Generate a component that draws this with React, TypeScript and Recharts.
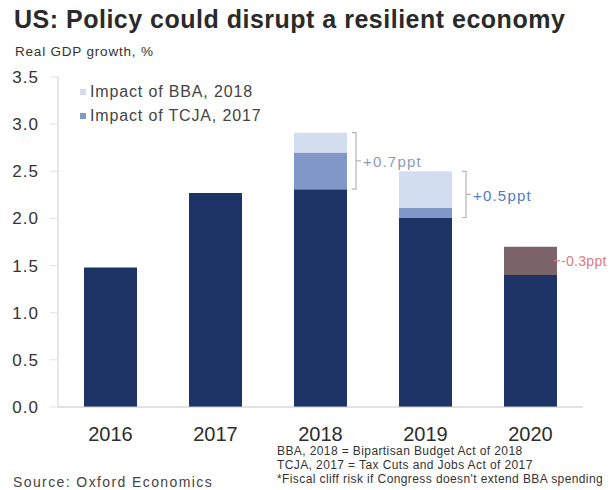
import React from 'react';
import { BarChart, Bar, XAxis, YAxis, Rectangle } from 'recharts';

const years = ['2016', '2017', '2018', '2019', '2020'];
const baseGrowth = [1.48, 2.27, 2.31, 2.01, 1.4];
const tcjaImpact = [0, 0, 0.39, 0.1, 0];
const bbaImpact = [0, 0, 0.21, 0.39, 0];
const fiscalCliff = [0, 0, 0, 0, 0.3];
const annotations = ['', '', '+0.7ppt', '+0.5ppt', '-0.3ppt'];
const yTicks = [0, 0.5, 1, 1.5, 2, 2.5, 3, 3.5];
const legendItems = [
  { label: 'Impact of BBA, 2018', color: '#d3ddf0' },
  { label: 'Impact of TCJA, 2017', color: '#8097c8' },
];
const footnotes = [
  'BBA, 2018 = Bipartisan Budget Act of 2018',
  'TCJA, 2017 = Tax Cuts and Jobs Act of 2017',
  "*Fiscal cliff risk if Congress doesn't extend BBA spending",
];

const NAVY = '#1f3466';
const TCJA = '#8097c8';
const BBA = '#d3ddf0';
const CLIFF = '#7a6468';
const FONT = '"Liberation Sans", Arial, sans-serif';

const data = years.map((y, i) => ({
  year: y,
  base: baseGrowth[i],
  tcja: tcjaImpact[i],
  bba: bbaImpact[i],
  cliff: fiscalCliff[i],
  note: annotations[i],
}));

// BBA segment shape: draws the rect, plus a bracket spanning TCJA + BBA
const BbaShape = (props: any) => {
  const { x, y, width, height, index, fill } = props;
  const d = data[index];
  const rect = <Rectangle x={x} y={y} width={width} height={height} fill={fill} />;
  if (!d || !d.note || d.bba <= 0 || !height) return rect;
  const pxPerUnit = height / d.bba;
  const top = y;
  const bottom = y + height + d.tcja * pxPerUnit;
  const bx = x + width + (index === 2 ? 9 : 14);
  const mid = (top + bottom) / 2;
  const color = index === 2 ? '#8d9cb8' : '#4f7cc4';
  return (
    <g>
      {rect}
      <path
        d={`M${bx - 4},${top} L${bx},${top} L${bx},${bottom} L${bx - 4},${bottom} M${bx},${mid} L${bx + 5},${mid}`}
        stroke="#b4b4b4"
        strokeWidth={1.2}
        fill="none"
      />
      <text
        x={bx + 7}
        y={mid + 1}
        dy="0.35em"
        fill={color}
        fontSize={15}
        letterSpacing={1.2}
        fontFamily={FONT}
      >
        {d.note}
      </text>
    </g>
  );
};

const CliffShape = (props: any) => {
  const { x, y, width, height, index, fill } = props;
  const d = data[index];
  const rect = <Rectangle x={x} y={y} width={width} height={height} fill={fill} />;
  if (!d || !d.note || d.cliff <= 0 || !height) return rect;
  const mid = y + height / 2;
  const bx = x + width;
  return (
    <g>
      {rect}
      <line x1={bx - 3} y1={mid} x2={bx + 3} y2={mid} stroke="#e07a80" strokeWidth={1.2} />
      <text
        x={bx + 4}
        y={mid}
        dy="0.35em"
        fill="#e07a80"
        fontSize={14}
        letterSpacing={0.3}
        fontFamily={FONT}
      >
        {d.note}
      </text>
    </g>
  );
};

export default function App() {
  return (
    <div
      style={{
        position: 'absolute',
        left: 0,
        top: 0,
        width: 615,
        height: 490,
        background: '#fff',
        fontFamily: FONT,
        overflow: 'hidden',
      }}
    >
      <div
        style={{
          position: 'absolute',
          left: 14,
          top: 5,
          fontSize: 25,
          letterSpacing: 0.5,
          fontWeight: 'bold',
          color: '#2a2a2a',
          whiteSpace: 'nowrap',
        }}
      >
        US: Policy could disrupt a resilient economy
      </div>
      <div
        style={{
          position: 'absolute',
          left: 15,
          top: 44,
          fontSize: 13.5,
          letterSpacing: 0.8,
          color: '#333',
          whiteSpace: 'nowrap',
        }}
      >
        Real GDP growth, %
      </div>
      <BarChart
        width={615}
        height={490}
        data={data}
        margin={{ top: 77, right: 32, bottom: 53, left: 0 }}
        barSize={53}
      >
        <XAxis
          dataKey="year"
          axisLine={{ stroke: '#c4c4c4' }}
          tickLine={false}
          tickMargin={14}
          tick={{ fill: '#2d2d2d', fontSize: 20, fontFamily: FONT }}
        />
        <YAxis
          domain={[0, 3.5]}
          ticks={yTicks}
          width={58}
          axisLine={{ stroke: '#cdd0d8' }}
          tickLine={{ stroke: '#e0e0e0' }}
          tickSize={8}
          tickMargin={11}
          tickFormatter={(v: number) => v.toFixed(1)}
          tick={{ fill: '#333', fontSize: 17, fontFamily: FONT, letterSpacing: 1 }}
          interval={0}
        />
        <Bar dataKey="base" stackId="a" fill={NAVY} isAnimationActive={false} />
        <Bar dataKey="tcja" stackId="a" fill={TCJA} isAnimationActive={false} />
        <Bar dataKey="bba" stackId="a" fill={BBA} isAnimationActive={false} shape={<BbaShape />} />
        <Bar dataKey="cliff" stackId="a" fill={CLIFF} isAnimationActive={false} shape={<CliffShape />} />
      </BarChart>
      {legendItems.map((it, i) => (
        <div
          key={it.label}
          style={{
            position: 'absolute',
            left: 80,
            top: 83 + i * 24,
            fontSize: 16,
            letterSpacing: 0.85,
            color: '#444',
            display: 'flex',
            alignItems: 'center',
            whiteSpace: 'nowrap',
          }}
        >
          <span
            style={{
              display: 'inline-block',
              width: 6,
              height: 6,
              background: it.color,
              marginRight: 4,
            }}
          />
          {it.label}
        </div>
      ))}
      {footnotes.map((t, i) => (
        <div
          key={t}
          style={{
            position: 'absolute',
            left: 277,
            top: 444 + i * 14,
            fontSize: 12,
            letterSpacing: 0.4,
            color: '#333',
            whiteSpace: 'nowrap',
          }}
        >
          {t}
        </div>
      ))}
      <div
        style={{
          position: 'absolute',
          left: 13,
          top: 474,
          fontSize: 14,
          letterSpacing: 1.4,
          color: '#444',
          whiteSpace: 'nowrap',
        }}
      >
        Source: Oxford Economics
      </div>
    </div>
  );
}
